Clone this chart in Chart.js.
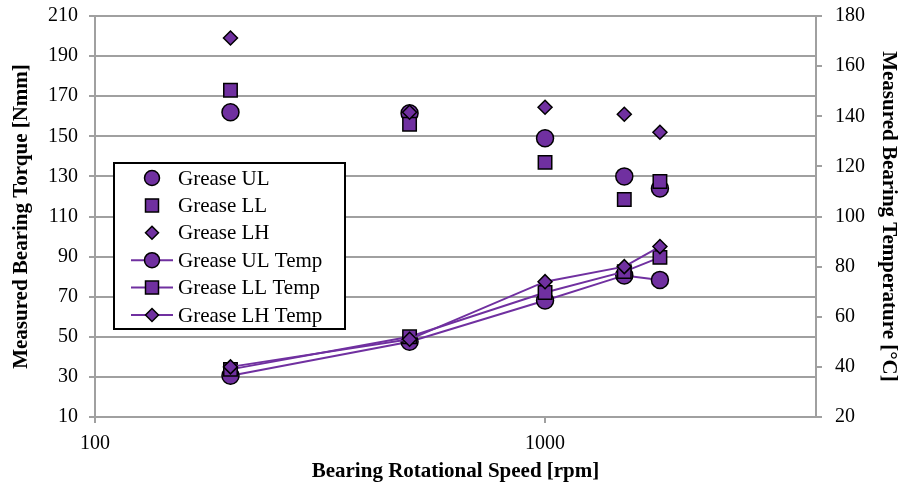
<!DOCTYPE html>
<html>
<head>
<meta charset="utf-8">
<script src="https://cdn.jsdelivr.net/npm/chart.js@4.4.1/dist/chart.umd.min.js"></script>
<style>
  html, body { margin: 0; padding: 0; background: #fff; }
  #wrap { width: 902px; height: 486px; }
</style>
</head>
<body>
<div id="wrap"><canvas id="grafico"></canvas></div>
<script>
// Dados
const speeds = [200, 500, 1000, 1500, 1800];
const torqueUL = [162, 161.5, 149, 130, 124];
const torqueLL = [173, 156, 137, 118.5, 127.5];
const torqueLH = [199, 162, 164.5, 161, 152];
const tempUL = [36.5, 50, 66.5, 76.5, 74.7];
const tempLL = [39, 52, 69.7, 78, 83.7];
const tempLH = [40, 51, 74, 80, 88];
const speedTicks = [100, 1000];
const torqueTicks = [10, 30, 50, 70, 90, 110, 130, 150, 170, 190, 210];
const tempTicks = [20, 40, 60, 80, 100, 120, 140, 160, 180];

const roxo = '#7030A0';
const cinza = '#a0a0a0';
const fonte = '"Liberation Serif", "Times New Roman", serif';

function pontos(ys) {
  return speeds.map((x, i) => ({ x: x, y: ys[i] }));
}

function serie(label, ys, estilo, raio, eixo, linha, ordem) {
  return {
    label: label,
    data: pontos(ys),
    yAxisID: eixo,
    showLine: linha,
    borderColor: roxo,
    borderWidth: 2,
    pointStyle: estilo,
    pointRadius: raio,
    pointHoverRadius: raio,
    pointBackgroundColor: roxo,
    pointBorderColor: '#000',
    pointBorderWidth: 1.5,
    order: ordem
  };
}

// Legenda desenhada dentro da área do gráfico
function marcador(ctx, estilo, x, y) {
  ctx.beginPath();
  if (estilo === 'circle') {
    ctx.arc(x, y, 7.5, 0, Math.PI * 2);
  } else if (estilo === 'rect') {
    ctx.rect(x - 6.5, y - 6.5, 13, 13);
  } else {
    ctx.moveTo(x, y - 6.5);
    ctx.lineTo(x + 6.5, y);
    ctx.lineTo(x, y + 6.5);
    ctx.lineTo(x - 6.5, y);
    ctx.closePath();
  }
  ctx.fillStyle = roxo;
  ctx.fill();
  ctx.lineWidth = 1.5;
  ctx.strokeStyle = '#000';
  ctx.stroke();
}

const legendaPlugin = {
  id: 'legendaInterna',
  afterDatasetsDraw(chart) {
    const ctx = chart.ctx;
    ctx.save();
    ctx.fillStyle = '#fff';
    ctx.fillRect(114, 163, 231, 166);
    ctx.lineWidth = 2;
    ctx.strokeStyle = '#000';
    ctx.strokeRect(114, 163, 231, 166);
    chart.data.datasets.forEach((ds, i) => {
      const y = 178 + i * 27.4;
      if (ds.showLine) {
        ctx.beginPath();
        ctx.moveTo(131, y);
        ctx.lineTo(173, y);
        ctx.lineWidth = 2;
        ctx.strokeStyle = roxo;
        ctx.stroke();
      }
      marcador(ctx, ds.pointStyle, 152, y);
      ctx.fillStyle = '#000';
      ctx.font = '21px ' + fonte;
      ctx.textBaseline = 'middle';
      ctx.textAlign = 'left';
      ctx.fillText(ds.label, 178, y + 1);
    });
    ctx.restore();
  }
};

// Eixos verticais sem folga extra para os rótulos
function fixarLargura(w) {
  return function (s) {
    s.width = w;
    s.paddingTop = 0;
    s.paddingBottom = 0;
  };
}

const ctx = document.getElementById('grafico').getContext('2d');
new Chart(ctx, {
  type: 'line',
  data: {
    datasets: [
      serie('Grease UL', torqueUL, 'circle', 8.5, 'y', false, 5),
      serie('Grease LL', torqueLL, 'rect', 9.5, 'y', false, 4),
      serie('Grease LH', torqueLH, 'rectRot', 7, 'y', false, 3),
      serie('Grease UL Temp', tempUL, 'circle', 8.5, 'y1', true, 2),
      serie('Grease LL Temp', tempLL, 'rect', 9.5, 'y1', true, 1),
      serie('Grease LH Temp', tempLH, 'rectRot', 7, 'y1', true, 0)
    ]
  },
  options: {
    responsive: true,
    maintainAspectRatio: false,
    animation: false,
    layout: { padding: { top: 16, left: 0, right: 0, bottom: 0 } },
    plugins: {
      legend: { display: false },
      tooltip: { enabled: false }
    },
    elements: { line: { tension: 0 } },
    scales: {
      x: {
        type: 'logarithmic',
        min: 100,
        max: 4000,
        afterBuildTicks(s) { s.ticks = speedTicks.map(v => ({ value: v })); },
        afterFit(s) { s.height = 69; s.paddingLeft = 0; s.paddingRight = 0; },
        ticks: {
          color: '#000',
          font: { family: fonte, size: 20 },
          padding: 9,
          maxRotation: 0,
          callback: v => String(v)
        },
        grid: { drawOnChartArea: false, color: cinza, lineWidth: 2, tickLength: 6 },
        border: { color: cinza, width: 2 },
        title: {
          display: true,
          text: 'Bearing Rotational Speed [rpm]',
          color: '#000',
          font: { family: fonte, size: 21, weight: 'bold' },
          padding: { top: 0, bottom: 2 }
        }
      },
      y: {
        position: 'left',
        min: 10,
        max: 210,
        afterBuildTicks(s) { s.ticks = torqueTicks.map(v => ({ value: v })); },
        afterFit: fixarLargura(95),
        ticks: {
          color: '#000',
          font: { family: fonte, size: 20 },
          padding: 11
        },
        grid: { color: cinza, lineWidth: 2, tickLength: 6 },
        border: { color: cinza, width: 2 },
        title: {
          display: true,
          text: 'Measured Bearing Torque [Nmm]',
          color: '#000',
          font: { family: fonte, size: 21, weight: 'bold' },
          padding: { top: 9, bottom: 0 }
        }
      },
      y1: {
        position: 'right',
        min: 20,
        max: 180,
        afterBuildTicks(s) { s.ticks = tempTicks.map(v => ({ value: v })); },
        afterFit: fixarLargura(86),
        ticks: {
          color: '#000',
          font: { family: fonte, size: 20 },
          padding: 13
        },
        grid: { drawOnChartArea: false, color: cinza, lineWidth: 2, tickLength: 6 },
        border: { color: cinza, width: 2 },
        title: {
          display: true,
          text: 'Measured Bearing Temperature [°C]',
          color: '#000',
          font: { family: fonte, size: 21, weight: 'bold' },
          padding: { top: 1, bottom: 0 }
        }
      }
    }
  },
  plugins: [legendaPlugin]
});
</script>
</body>
</html>
